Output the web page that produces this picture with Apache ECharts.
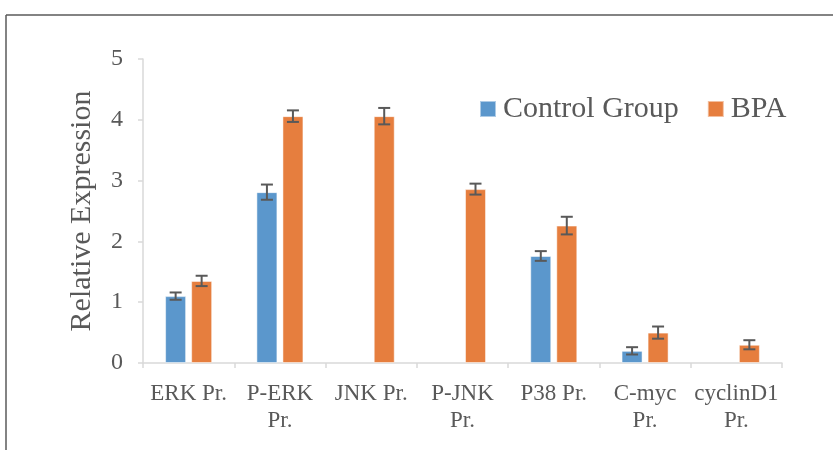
<!DOCTYPE html>
<html>
<head>
<meta charset="utf-8">
<script src="https://cdn.jsdelivr.net/npm/echarts@6/dist/echarts.min.js"></script>
<style>
html,body{margin:0;padding:0;background:#fff;}
#chart{width:833px;height:450px;}
</style>
</head>
<body>
<div id="chart"></div>
<script>
var categories = ['ERK Pr.', 'P-ERK\nPr.', 'JNK Pr.', 'P-JNK\nPr.', 'P38 Pr.', 'C-myc\nPr.', 'cyclinD1\nPr.'];
var controlValues = [1.10, 2.81, 0, 0, 1.76, 0.20, 0];
var controlErrors = [0.06, 0.125, 0, 0, 0.08, 0.06, 0];
var bpaValues = [1.35, 4.06, 4.06, 2.86, 2.26, 0.50, 0.30];
var bpaErrors = [0.085, 0.095, 0.135, 0.09, 0.145, 0.10, 0.075];
var yTicks = [0, 1, 2, 3, 4, 5];

var chart = echarts.init(document.getElementById('chart'));
var FONT = '"Liberation Serif", "Times New Roman", serif';
var TXT = '#595959';
var BAR_W = 21, OFFSET = 13;

function barData(values) {
  return values.map(function (v) { return v === 0 ? '-' : v; });
}

function errSeries(values, errors, dx) {
  var data = values.map(function (v, i) { return [i, v, errors[i]]; })
    .filter(function (d) { return d[2] > 0; });
  return {
    type: 'custom',
    silent: true,
    z: 10,
    data: data,
    renderItem: function (params, api) {
      var i = api.value(0), v = api.value(1), e = api.value(2);
      var top = api.coord([i, v + e]);
      var bot = api.coord([i, v - e]);
      var x = top[0] + dx;
      var cap = 6;
      var st = { stroke: '#595959', lineWidth: 2 };
      return {
        type: 'group',
        children: [
          { type: 'line', shape: { x1: x, y1: top[1], x2: x, y2: bot[1] }, style: st },
          { type: 'line', shape: { x1: x - cap, y1: top[1], x2: x + cap, y2: top[1] }, style: st },
          { type: 'line', shape: { x1: x - cap, y1: bot[1], x2: x + cap, y2: bot[1] }, style: st }
        ]
      };
    }
  };
}

chart.setOption({
  backgroundColor: '#fff',
  animation: false,
  grid: { left: 143, right: 51, top: 59, bottom: 87, containLabel: false },
  legend: {
    left: 474, top: 89,
    itemWidth: 16, itemHeight: 16, itemGap: 28,
    icon: 'rect',
    textStyle: { fontFamily: FONT, fontSize: 30, color: TXT, padding: [0, 0, 0, 2] },
    data: ['Control Group', 'BPA']
  },
  graphic: [
    { type: 'line', shape: { x1: 6, y1: 15, x2: 833, y2: 15 }, style: { stroke: '#5a5a5a', lineWidth: 1.5 } },
    { type: 'line', shape: { x1: 6, y1: 15, x2: 6, y2: 450 }, style: { stroke: '#5a5a5a', lineWidth: 1.5 } }
  ],
  xAxis: {
    type: 'category',
    data: categories,
    axisLine: { lineStyle: { color: '#d9d9d9', width: 1.5 } },
    axisTick: { show: true, length: 5, lineStyle: { color: '#d9d9d9', width: 1.5 } },
    axisLabel: { fontFamily: FONT, fontSize: 23, color: TXT, margin: 17, lineHeight: 27, interval: 0 }
  },
  yAxis: {
    type: 'value',
    min: yTicks[0], max: yTicks[yTicks.length - 1], interval: 1,
    name: 'Relative Expression',
    nameLocation: 'middle',
    nameGap: 46,
    nameTextStyle: { fontFamily: FONT, fontSize: 30, color: TXT },
    axisLine: { show: true, lineStyle: { color: '#d9d9d9', width: 1.5 } },
    axisTick: { show: true, length: 5, lineStyle: { color: '#d9d9d9', width: 1.5 } },
    splitLine: { show: false },
    axisLabel: { fontFamily: FONT, fontSize: 24, color: TXT, margin: 20 }
  },
  series: [
    {
      name: 'Control Group', type: 'bar', data: barData(controlValues),
      barWidth: BAR_W, barGap: '24%',
      itemStyle: { color: '#5b97cc', borderColor: 'rgba(255,255,255,0.5)', borderWidth: 1 }
    },
    {
      name: 'BPA', type: 'bar', data: barData(bpaValues),
      barWidth: BAR_W, barGap: '24%',
      itemStyle: { color: '#e67e3e', borderColor: 'rgba(255,255,255,0.5)', borderWidth: 1 }
    },
    errSeries(controlValues, controlErrors, -OFFSET),
    errSeries(bpaValues, bpaErrors, OFFSET)
  ]
});
</script>
</body>
</html>
